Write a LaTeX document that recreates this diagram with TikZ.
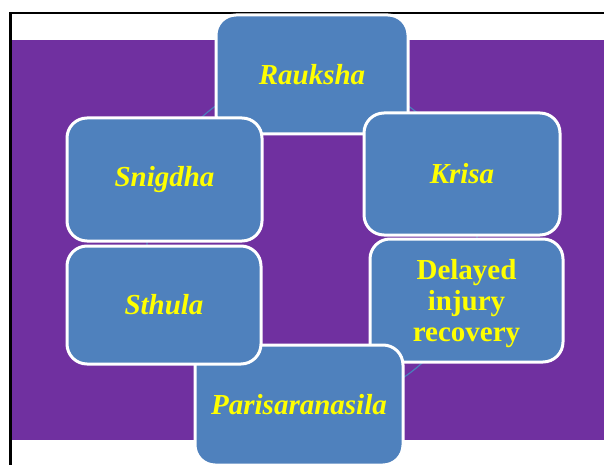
\documentclass[tikz,border=0pt]{standalone}
\usepackage{fontspec}
\setmainfont{Liberation Serif}
\usetikzlibrary{arrows.meta,calc}
\definecolor{purplebg}{HTML}{7030A0}
\definecolor{boxblue}{HTML}{4F81BD}
\definecolor{arcblue}{HTML}{4A7EBB}
\definecolor{txtyellow}{HTML}{FFFF00}
\pgfdeclarelayer{back}
\pgfdeclarelayer{mid}
\pgfsetlayers{back,mid,main}
\tikzset{
  card/.style={draw=white, line width=3pt, fill=boxblue, rounded corners=20pt,
    text=txtyellow, font=\fontsize{29}{31}\selectfont\bfseries\itshape,
    align=center, inner sep=0pt},
  cardtext/.style={text=txtyellow, font=\fontsize{29}{31}\selectfont\bfseries,
    align=center, inner sep=0pt},
  cyclearc/.style={draw=arcblue, line width=1.2pt, -{Stealth[length=5pt,width=5pt]}}
}
\begin{document}
\begin{tikzpicture}[x=1pt,y=1pt]
\useasboundingbox (0,0) rectangle (604,464);
\clip (0,0) rectangle (604,464);
\begin{pgfonlayer}{back}
  \fill[white] (0,0) rectangle (604,464);
  \fill[purplebg] (11.5,24) rectangle (610,424);
  \draw[black, line width=2.5pt] (10.5,-10) rectangle (620,451);
\end{pgfonlayer}
% boxes
\node[card, minimum width=192pt, minimum height=119pt] (rauk) at (312,389.5) {Rauksha};
\node[card, minimum width=196pt, minimum height=122pt] (kris) at (462,290) {Krisa};
\node[card, minimum width=195pt, minimum height=123pt] (snig) at (164.5,284.5) {Snigdha};
\node[card, minimum width=193pt, minimum height=123pt,
  label={[cardtext, yshift=-3.5pt]center:Delayed\\injury\\recovery}] (dela) at (466.5,163.5) {};
\node[card, minimum width=208pt, minimum height=120pt] (pari) at (299,59) {Parisaranasila};
\node[card, minimum width=194pt, minimum height=118pt] (sthu) at (164,159) {Sthula};
% cycle connectors
\coordinate (cc) at (312,224);
\coordinate (a1) at ($(cc)+(60:165)$);
\coordinate (a2) at ($(cc)+(10:165)$);
\coordinate (a3) at ($(cc)+(-40:165)$);
\coordinate (a4) at ($(cc)+(-120:165)$);
\coordinate (a5) at ($(cc)+(185:165)$);
\coordinate (a6) at ($(cc)+(140:165)$);
\begin{pgfonlayer}{mid}
  \draw[cyclearc] (a1) arc[start angle=60, end angle=45, radius=165];
  \draw[cyclearc] (a2) arc[start angle=10, end angle=-5, radius=165];
  \draw[cyclearc] (a3) arc[start angle=-40, end angle=-62, radius=165];
  \draw[cyclearc] (a4) arc[start angle=-120, end angle=-150, radius=165];
  \draw[cyclearc] (a5) arc[start angle=185, end angle=175, radius=165];
  \draw[cyclearc] (a6) arc[start angle=140, end angle=115, radius=165];
\end{pgfonlayer}
\end{tikzpicture}
\end{document}
